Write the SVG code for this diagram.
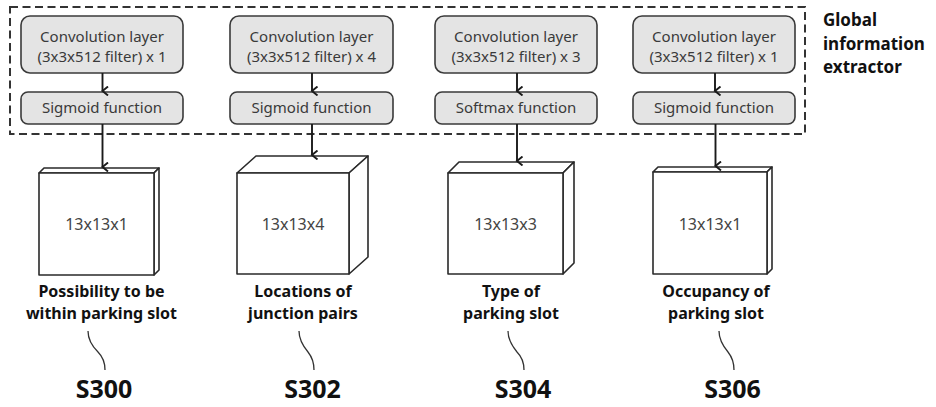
<svg xmlns="http://www.w3.org/2000/svg" width="936" height="407" viewBox="0 0 936 407">
<style>
  .box { fill: #e4e4e4; stroke: #3a3a3a; stroke-width: 1.6; }
  .bt { font-family: "Noto Sans", "Liberation Sans", sans-serif; font-size: 15px; fill: #3a3a3a; text-anchor: middle; }
  .cube { fill: #ffffff; stroke: #2a2a2a; stroke-width: 1.6; stroke-linejoin: round; }
  .ct { font-family: "Noto Sans", "Liberation Sans", sans-serif; font-size: 16px; fill: #444; text-anchor: middle; }
  .lbl { font-family: "Noto Sans", "Liberation Sans", sans-serif; font-size: 16px; font-weight: bold; fill: #111; text-anchor: middle; }
  .sid { font-family: "Noto Sans", "Liberation Sans", sans-serif; font-size: 25px; font-weight: bold; fill: #111; text-anchor: middle; }
  .gie { font-family: "Noto Sans", "Liberation Sans", sans-serif; font-size: 17px; font-weight: bold; fill: #111; }
  .dash { fill: none; stroke: #333; stroke-width: 2; stroke-dasharray: 8 4.5; }
  .arr { fill: none; stroke: #1a1a1a; stroke-width: 1.9; marker-end: url(#ah); }
  .sq { fill: none; stroke: #333; stroke-width: 1.3; }
</style>
<defs>
  <marker id="ah" markerWidth="10" markerHeight="10" refX="5" refY="8" orient="auto" markerUnits="userSpaceOnUse" viewBox="0 0 10 10">
    <path d="M0.5,2.5 L5,8 L9.5,2.5" fill="none" stroke="#1a1a1a" stroke-width="1.9"/>
  </marker>
</defs>
<rect width="936" height="407" fill="#ffffff"/>

<g id="global-extractor">
  <rect class="dash" x="10" y="7" width="795" height="127"/>
  <text class="gie" x="823" y="26">Global</text>
  <text class="gie" x="823" y="49.5">information</text>
  <text class="gie" x="823" y="73">extractor</text>
</g>

<g id="conv1"><rect class="box" x="21" y="16" width="162" height="57" rx="9"/><text class="bt" x="102" y="41.5">Convolution layer</text><text class="bt" x="102" y="62">(3x3x512 filter) x 1</text></g>
<g id="act1"><rect class="box" x="21" y="92" width="162" height="32" rx="7"/><text class="bt" x="102" y="113">Sigmoid function</text></g>

<g id="conv2"><rect class="box" x="230" y="16" width="163" height="57" rx="9"/><text class="bt" x="311.5" y="41.5">Convolution layer</text><text class="bt" x="311.5" y="62">(3x3x512 filter) x 4</text></g>
<g id="act2"><rect class="box" x="230" y="92" width="163" height="32" rx="7"/><text class="bt" x="311.5" y="113">Sigmoid function</text></g>

<g id="conv3"><rect class="box" x="435" y="16" width="162" height="57" rx="9"/><text class="bt" x="516" y="41.5">Convolution layer</text><text class="bt" x="516" y="62">(3x3x512 filter) x 3</text></g>
<g id="act3"><rect class="box" x="435" y="92" width="162" height="32" rx="7"/><text class="bt" x="516" y="113">Softmax function</text></g>

<g id="conv4"><rect class="box" x="633" y="16" width="162" height="57" rx="9"/><text class="bt" x="714" y="41.5">Convolution layer</text><text class="bt" x="714" y="62">(3x3x512 filter) x 1</text></g>
<g id="act4"><rect class="box" x="633" y="92" width="162" height="32" rx="7"/><text class="bt" x="714" y="113">Sigmoid function</text></g>

<g id="cube1">
  <path class="cube" d="M39,173 L44,168 L159,168 L154,173 Z"/>
  <path class="cube" d="M154,173 L159,168 L159,270 L154,275 Z"/>
  <rect class="cube" x="39" y="173" width="115" height="102"/>
  <text class="ct" x="96.5" y="230">13x13x1</text>
</g>
<g id="cube2">
  <path class="cube" d="M237,173 L256,156 L368,156 L349,173 Z"/>
  <path class="cube" d="M349,173 L368,156 L368,257 L349,274 Z"/>
  <rect class="cube" x="237" y="173" width="112" height="101"/>
  <text class="ct" x="293" y="230">13x13x4</text>
</g>
<g id="cube3">
  <path class="cube" d="M448,173 L459,162 L574,162 L563,173 Z"/>
  <path class="cube" d="M563,173 L574,162 L574,263 L563,274 Z"/>
  <rect class="cube" x="448" y="173" width="115" height="101"/>
  <text class="ct" x="505.5" y="230">13x13x3</text>
</g>
<g id="cube4">
  <path class="cube" d="M653,172 L658,167 L772,167 L767,172 Z"/>
  <path class="cube" d="M767,172 L772,167 L772,269 L767,274 Z"/>
  <rect class="cube" x="653" y="172" width="114" height="102"/>
  <text class="ct" x="710" y="230">13x13x1</text>
</g>

<g id="label1"><text class="lbl" x="101.5" y="297">Possibility to be</text><text class="lbl" x="101.5" y="319">within parking slot</text></g>
<g id="label2"><text class="lbl" x="303" y="297">Locations of</text><text class="lbl" x="303" y="319">junction pairs</text></g>
<g id="label3"><text class="lbl" x="511" y="297">Type of</text><text class="lbl" x="511" y="319">parking slot</text></g>
<g id="label4"><text class="lbl" x="716" y="297">Occupancy of</text><text class="lbl" x="716" y="319">parking slot</text></g>

<g id="s300"><text class="sid" x="104" y="398">S300</text></g>
<g id="s302"><text class="sid" x="312.5" y="398">S302</text></g>
<g id="s304"><text class="sid" x="523" y="398">S304</text></g>
<g id="s306"><text class="sid" x="732.5" y="398">S306</text></g>

<g id="connectors">
  <line class="arr" x1="102.5" y1="73" x2="102.5" y2="91"/>
  <line class="arr" x1="312" y1="73" x2="312" y2="91"/>
  <line class="arr" x1="517" y1="73" x2="517" y2="91"/>
  <line class="arr" x1="715" y1="73" x2="715" y2="91"/>
  <line class="arr" x1="102.5" y1="124" x2="102.5" y2="167"/>
  <line class="arr" x1="312" y1="124" x2="312" y2="155"/>
  <line class="arr" x1="517" y1="124" x2="517" y2="161"/>
  <line class="arr" x1="715.5" y1="124" x2="715.5" y2="166"/>
  <path class="sq" d="M88,331 C88,340 92,346 98,352 C103,357 105,362 105,370"/>
  <path class="sq" d="M299,331 C299,340 303,346 308,352 C312,357 314,362 314,370"/>
  <path class="sq" d="M508,331 C508,340 512,346 517,352 C522,357 524,362 524,370"/>
  <path class="sq" d="M719,331 C719,340 723,346 728,352 C732,357 734,362 734,370"/>
</g>
</svg>
